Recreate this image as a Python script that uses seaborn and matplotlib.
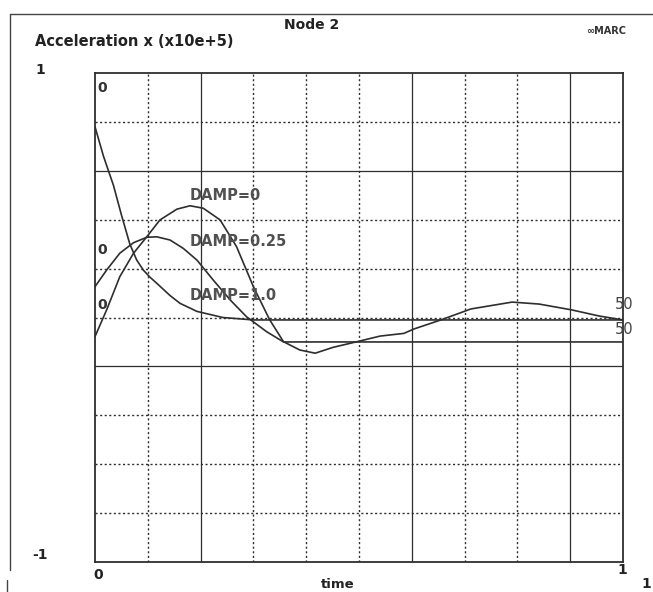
import numpy as np
import pandas as pd
import matplotlib
matplotlib.use("Agg")
import matplotlib.pyplot as plt
from matplotlib.lines import Line2D
import seaborn as sns

time_damp0 = [0.0, 0.022, 0.047, 0.073, 0.098, 0.123, 0.155, 0.18, 0.205, 0.237,
              0.268, 0.30, 0.331, 0.357, 0.388, 0.417, 0.451, 0.496, 0.54, 0.585,
              0.604, 0.655, 0.712, 0.79, 0.841, 0.903, 0.955, 1.0]
acc_damp0 = [-0.078, 0.031, 0.167, 0.263, 0.33, 0.399, 0.443, 0.457, 0.447, 0.399,
             0.29, 0.126, -0.01, -0.099, -0.133, -0.146, -0.122, -0.099, -0.076, -0.065,
             -0.047, -0.01, 0.035, 0.063, 0.055, 0.031, 0.006, -0.01]

time_damp025 = [0.0, 0.022, 0.047, 0.073, 0.098, 0.117, 0.142, 0.167, 0.193, 0.224,
                0.256, 0.287, 0.325, 0.357, 0.5, 0.75, 1.0]
acc_damp025 = [0.126, 0.194, 0.263, 0.306, 0.328, 0.33, 0.317, 0.283, 0.235, 0.153,
               0.072, 0.003, -0.058, -0.1, -0.1, -0.1, -0.1]

time_damp1 = [0.0, 0.016, 0.035, 0.05, 0.066, 0.079, 0.0915, 0.104, 0.117, 0.142,
              0.161, 0.193, 0.242, 0.30, 0.5, 0.75, 1.0]
acc_damp1 = [0.78, 0.66, 0.54, 0.42, 0.30, 0.235, 0.194, 0.165, 0.14, 0.09,
             0.058, 0.025, 0.0, -0.01, -0.01, -0.01, -0.01]

curve_names = ["DAMP=0", "DAMP=0.25", "DAMP=1.0"]
curve_times = [time_damp0, time_damp025, time_damp1]
curve_values = [acc_damp0, acc_damp025, acc_damp1]

df = pd.concat([pd.DataFrame({"time": t, "acc": v, "case": n})
                for t, v, n in zip(curve_times, curve_values, curve_names)])

sns.set_style("white")
plt.rcParams["font.family"] = ["DejaVu Sans"]

ink = "#2e2e2e"
fig = plt.figure(figsize=(6.53, 5.92), dpi=100)
ax = fig.add_axes([95 / 653, 1 - 562 / 592, 528 / 653, 489 / 592])

ax.set_xlim(0, 1)
ax.set_ylim(-1, 1)

# grid: mostly dotted, a few printed solid
for i, gx in enumerate(np.linspace(0, 1, 11)[1:-1]):
    solid = i in (1, 5, 8)
    ax.axvline(gx, color=ink, lw=0.9 if solid else 1.0,
               ls="-" if solid else (0, (1.5, 1.8)), zorder=1)
for i, gy in enumerate(np.linspace(1, -1, 11)[1:-1]):
    solid = i in (1, 5)
    ax.axhline(gy, color=ink, lw=0.9 if solid else 1.0,
               ls="-" if solid else (0, (1.5, 1.8)), zorder=1)

for name in curve_names:
    sub = df[df["case"] == name]
    sns.lineplot(data=sub, x="time", y="acc", ax=ax, color=ink, lw=1.2,
                 sort=False, estimator=None, legend=False, zorder=3)

for s in ax.spines.values():
    s.set_color(ink)
    s.set_linewidth(1.3)
ax.set_xticks([])
ax.set_yticks([])
ax.set_xlabel("")
ax.set_ylabel("")

# curve labels
lab_kw = dict(fontsize=10.5, fontweight="bold", color="#505050", va="center", ha="left")
ax.text(0.18, 0.50, "DAMP=0", **lab_kw)
ax.text(0.18, 0.309, "DAMP=0.25", **lab_kw)
ax.text(0.18, 0.088, "DAMP=1.0", **lab_kw)

# increment markers at start / end of curves
inc_kw = dict(fontsize=10, color="#333333", va="center")
ax.text(0.004, 0.94, "0", ha="left", fontweight="bold", **inc_kw)
ax.text(0.004, 0.277, "0", ha="left", fontweight="bold", **inc_kw)
ax.text(0.004, 0.05, "0", ha="left", fontweight="bold", **inc_kw)
ax.text(0.985, 0.052, "50", ha="left", fontsize=10.5, color="#444444", va="center")
ax.text(0.985, -0.05, "50", ha="left", fontsize=10.5, color="#444444", va="center")

# axis labels and titles
tk = dict(fontsize=10, fontweight="bold", color="#222222")
fig.text(40 / 653, 1 - 70 / 592, "1", ha="center", va="center", **tk)
fig.text(40 / 653, 1 - 555 / 592, "-1", ha="center", va="center", **tk)
fig.text(98 / 653, 1 - 575 / 592, "0", ha="center", va="center", **tk)
fig.text(622 / 653, 1 - 570 / 592, "1", ha="center", va="center", **tk)
fig.text(646 / 653, 1 - 584 / 592, "1", ha="center", va="center", **tk)
fig.text(338 / 653, 1 - 585 / 592, "time", ha="center", va="center",
         fontsize=9.5, fontweight="bold", color="#222222")
fig.text(35 / 653, 1 - 42 / 592, "Acceleration x (x10e+5)", ha="left", va="center",
         fontsize=10.5, fontweight="bold", color="#222222")
fig.text(312 / 653, 1 - 25 / 592, "Node 2", ha="center", va="center",
         fontsize=10, fontweight="bold", color="#222222")
fig.text(586 / 653, 1 - 31 / 592, "\u221eMARC", ha="left", va="center",
         fontsize=7, fontweight="bold", color="#333333")

# outer frame of the print
fig.add_artist(Line2D([10 / 653, 1], [1 - 14 / 592, 1 - 14 / 592],
                      transform=fig.transFigure, color="#444444", lw=1))
fig.add_artist(Line2D([10 / 653, 10 / 653], [1 - 14 / 592, 1 - 570 / 592],
                      transform=fig.transFigure, color="#444444", lw=1))
fig.add_artist(Line2D([7 / 653, 7 / 653], [1 - 580 / 592, 0],
                      transform=fig.transFigure, color="#444444", lw=1))

fig.savefig("out.png", dpi=100)
